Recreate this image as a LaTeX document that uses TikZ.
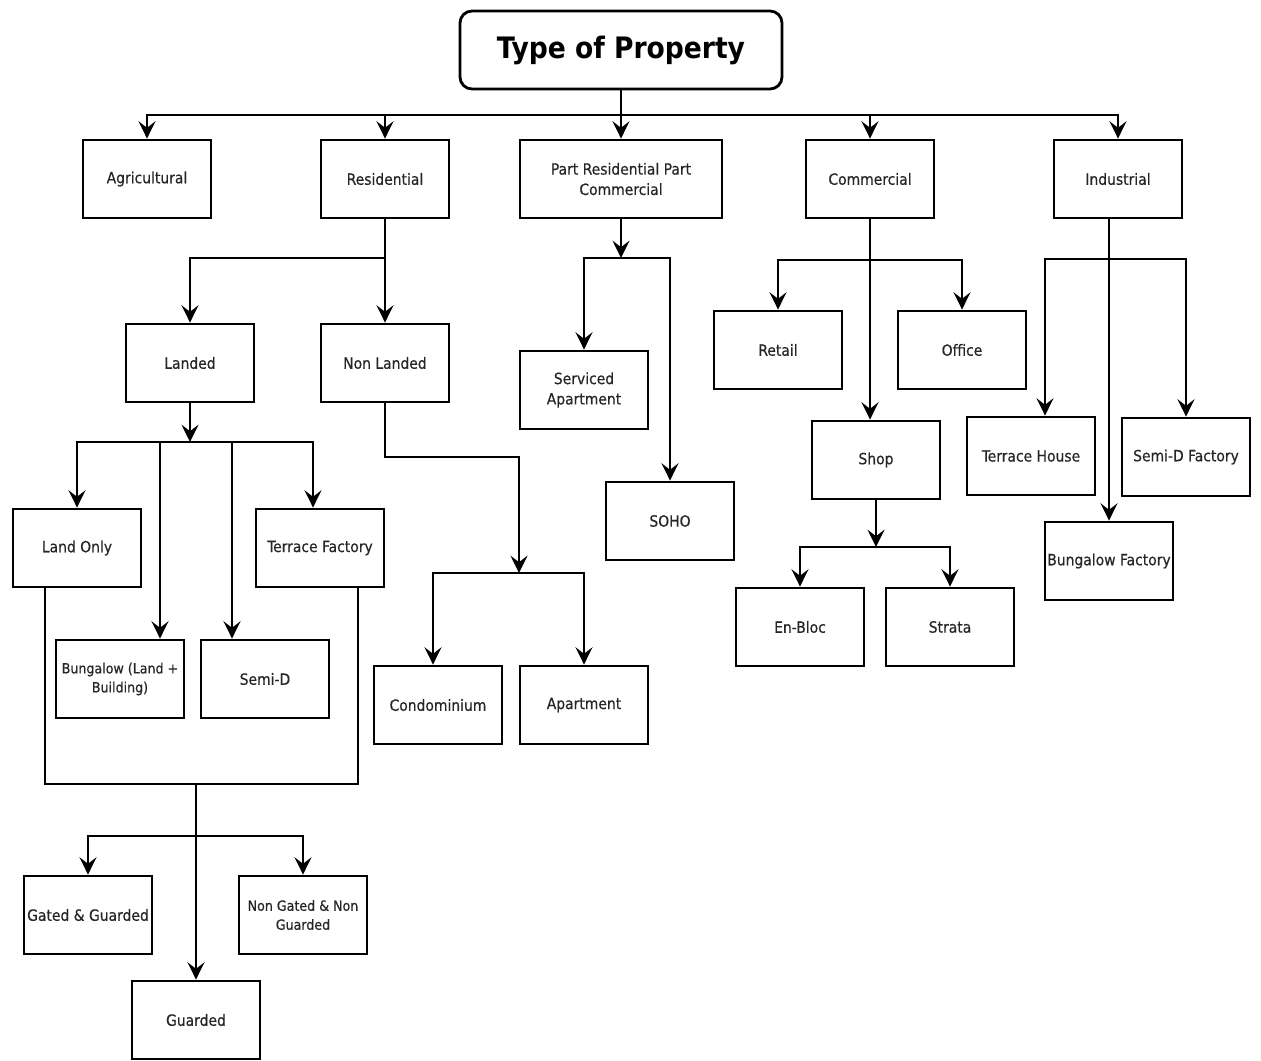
\documentclass[tikz,border=0pt]{standalone}
\usepackage{fontspec}
\setmainfont{DejaVu Sans Condensed}
\newfontfamily\boxfont{DejaVu Sans Condensed}[FakeBold=0.5]
\usetikzlibrary{arrows.meta}

\begin{document}
\begin{tikzpicture}[x=0.25mm, y=-0.25mm, line width=2pt,
  box/.style={draw, rectangle, minimum width=32mm, minimum height=19.5mm, inner sep=1pt, align=center, text=black!85, font=\boxfont\fontsize{11}{14.5}\selectfont},
  small/.style={font=\boxfont\fontsize{10}{13.5}\selectfont},
  arr/.style={-{Stealth[length=4.3mm, width=4.2mm, inset=1.6mm]}}]
\useasboundingbox (0,0) rectangle (1261,1061);
\node[box, rounded corners=3mm, minimum width=80.5mm, text=black, font=\bfseries\fontsize{21}{24}\selectfont] (type) at (621,50) {Type of Property};
\node[box] (agri) at (147,179) {Agricultural};
\node[box] (resi) at (385,179) {Residential};
\node[box, minimum width=50.5mm] (prpc) at (621,179) {Part Residential Part\\Commercial};
\node[box] (comm) at (870,179) {Commercial};
\node[box] (indu) at (1118,179) {Industrial};
\node[box] (landed) at (190,363) {Landed};
\node[box] (nonland) at (385,363) {Non Landed};
\node[box] (landonly) at (77,548) {Land Only};
\node[box] (terrfac) at (320,548) {Terrace Factory};
\node[box, small] (bungalow) at (120,679) {Bungalow (Land +\\Building)};
\node[box] (semid) at (265,679) {Semi-D};
\node[box] (gated) at (88,915) {Gated \& Guarded};
\node[box, small] (nongated) at (303,915) {Non Gated \& Non\\Guarded};
\node[box] (guarded) at (196,1020) {Guarded};
\node[box] (condo) at (438,705) {Condominium};
\node[box] (apart) at (584,705) {Apartment};
\node[box] (serviced) at (584,390) {Serviced\\Apartment};
\node[box] (soho) at (670,521) {SOHO};
\node[box] (retail) at (778,350) {Retail};
\node[box] (office) at (962,350) {Office};
\node[box] (shop) at (876,460) {Shop};
\node[box] (enbloc) at (800,627) {En-Bloc};
\node[box] (strata) at (950,627) {Strata};
\node[box] (terrhouse) at (1031,456) {Terrace House};
\node[box] (semidfac) at (1186,457) {Semi-D Factory};
\node[box] (bungfac) at (1109,561) {Bungalow Factory};

\coordinate (j0) at (621,115);
\draw (type) -- (j0);
\foreach \n in {agri,resi,prpc,comm,indu}
  \draw[arr] (j0) -| (\n.north);

\coordinate (j1) at (385,258);
\draw (resi) -- (j1);
\draw[arr] (j1) -| (landed.north);
\draw[arr] (j1) -- (nonland.north);

\coordinate (j2) at (190,442);
\draw[arr] (landed) -- (j2);
\draw[arr] (j2) -| (landonly.north);
\draw[arr] (j2) -| ([xshift=-1.75mm]terrfac.north);
\draw[arr] (j2) -| ([xshift=10mm]bungalow.north);
\draw[arr] (j2) -| ([xshift=-8.25mm]semid.north);

\coordinate (lo) at (45,784);
\coordinate (tf) at (358,784);
\coordinate (j3) at (196,784);
\coordinate (j4) at (196,836);
\draw (landonly.south -| lo) -- (lo) -- (tf) -- (terrfac.south -| tf);
\draw (j3) -- (j4);
\draw[arr] (j4) -| (gated.north);
\draw[arr] (j4) -| (nongated.north);
\draw[arr] (j4) -- (guarded.north);

\coordinate (j5) at (519,457);
\coordinate (j6) at (519,573);
\draw[arr] (nonland.south) |- (j5) -- (j6);
\draw[arr] (j6) -| ([xshift=-1.25mm]condo.north);
\draw[arr] (j6) -| (apart.north);

\coordinate (j7) at (621,258);
\draw[arr] (prpc) -- (j7);
\draw[arr] (j7) -| (serviced.north);
\draw[arr] (j7) -| (soho.north);

\coordinate (j8) at (870,260);
\draw[arr] (comm) -- (comm.south |- shop.north);
\draw[arr] (j8) -| (retail.north);
\draw[arr] (j8) -| (office.north);

\coordinate (j9) at (876,547);
\draw[arr] (shop) -- (j9);
\draw[arr] (j9) -| (enbloc.north);
\draw[arr] (j9) -| (strata.north);

\coordinate (j10) at (1109,259);
\draw[arr] (indu.south -| bungfac.north) -- (bungfac.north);
\draw[arr] (j10) -| ([xshift=3.5mm]terrhouse.north);
\draw[arr] (j10) -| (semidfac.north);
\end{tikzpicture}
\end{document}
